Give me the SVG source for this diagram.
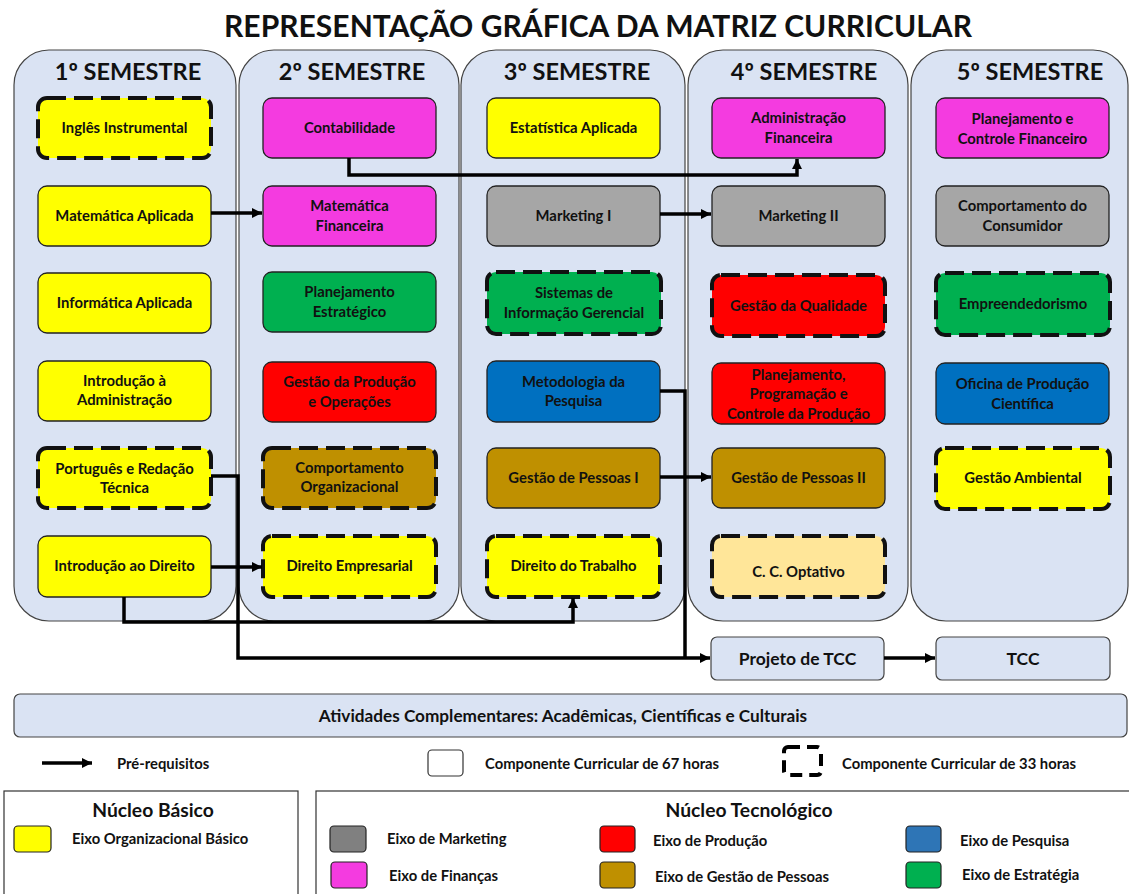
<svg xmlns="http://www.w3.org/2000/svg" width="1129" height="894" viewBox="0 0 1129 894">
<defs>
<marker id="ah" markerUnits="userSpaceOnUse" markerWidth="11" markerHeight="11" refX="10" refY="5" orient="auto">
<path d="M0,0 L10,5 L0,10 z" fill="#000"/>
</marker>
<style>
text{font-family:Lato,"Liberation Sans",sans-serif;font-weight:700;fill:#111;}
.t{font-size:14.8px;text-anchor:middle;}
.tb{font-size:17.5px;text-anchor:middle;}
.h{font-size:23.5px;text-anchor:middle;}
.col{fill:#dae3f3;stroke:#444;stroke-width:1.2;}
.n{stroke:#222;stroke-width:1.3;}
.d{stroke:#111;stroke-width:4;stroke-dasharray:19 8;}
.c{fill:none;stroke:#000;stroke-width:3.5;}
.y{fill:#ffff00;}.m{fill:#f43be0;}.g{fill:#00b050;}.r{fill:#ff0000;}.b{fill:#0070c0;}.br{fill:#bf9000;}.gr{fill:#a6a6a6;}.o{fill:#ffe699;}
.lt{font-size:14.8px;}
.leg{fill:#fff;stroke:#333;stroke-width:1.2;}
.sw{stroke:#222;stroke-width:1.2;}
</style>
</defs>
<rect width="1129" height="894" fill="#fff"/>
<text x="598" y="37" text-anchor="middle" font-size="30" textLength="748">REPRESENTAÇÃO GRÁFICA DA MATRIZ CURRICULAR</text>

<g id="semesters">
<rect class="col" x="14" y="50" width="222" height="571" rx="35"/>
<rect class="col" x="239" y="50" width="220" height="571" rx="35"/>
<rect class="col" x="461" y="50" width="224" height="571" rx="35"/>
<rect class="col" x="688" y="50" width="220" height="571" rx="35"/>
<rect class="col" x="911" y="50" width="217" height="571" rx="35"/>
<text class="h" x="128" y="80">1º SEMESTRE</text>
<text class="h" x="352" y="80">2º SEMESTRE</text>
<text class="h" x="577" y="80">3º SEMESTRE</text>
<text class="h" x="804" y="80">4º SEMESTRE</text>
<text class="h" x="1030" y="80">5º SEMESTRE</text>
</g>

<!-- Semester 1 -->
<g id="n-ingles"><rect class="n y d" x="38" y="98" width="173" height="60" rx="9"/><text class="t" x="124.5" y="133">Inglês Instrumental</text></g>
<g id="n-matapl"><rect class="n y" x="38" y="186" width="173" height="60" rx="9"/><text class="t" x="124.5" y="221">Matemática Aplicada</text></g>
<g id="n-infapl"><rect class="n y" x="38" y="273" width="173" height="60" rx="9"/><text class="t" x="124.5" y="308">Informática Aplicada</text></g>
<g id="n-introadm"><rect class="n y" x="38" y="361" width="173" height="60" rx="9"/><text class="t" x="124.5" y="386">Introdução à</text><text class="t" x="124.5" y="405">Administração</text></g>
<g id="n-port"><rect class="n y d" x="38" y="448" width="173" height="60" rx="9"/><text class="t" x="124.5" y="474">Português e Redação</text><text class="t" x="124.5" y="493">Técnica</text></g>
<g id="n-introdir"><rect class="n y" x="38" y="536" width="173" height="61" rx="9"/><text class="t" x="124.5" y="571">Introdução ao Direito</text></g>

<!-- Semester 2 -->
<g id="n-contab"><rect class="n m" x="263" y="98" width="173" height="60" rx="9"/><text class="t" x="349.5" y="133">Contabilidade</text></g>
<g id="n-matfin"><rect class="n m" x="263" y="186" width="173" height="60" rx="9"/><text class="t" x="349.5" y="211">Matemática</text><text class="t" x="349.5" y="231">Financeira</text></g>
<g id="n-planest"><rect class="n g" x="263" y="272" width="173" height="60" rx="9"/><text class="t" x="349.5" y="297">Planejamento</text><text class="t" x="349.5" y="317">Estratégico</text></g>
<g id="n-gestprod"><rect class="n r" x="263" y="362" width="173" height="60" rx="9"/><text class="t" x="349.5" y="387">Gestão da Produção</text><text class="t" x="349.5" y="407">e Operações</text></g>
<g id="n-comporg"><rect class="n br d" x="263" y="448" width="173" height="60" rx="9"/><text class="t" x="349.5" y="473">Comportamento</text><text class="t" x="349.5" y="492">Organizacional</text></g>
<g id="n-dirempr"><rect class="n y d" x="263" y="536" width="173" height="61" rx="9"/><text class="t" x="349.5" y="571">Direito Empresarial</text></g>

<!-- Semester 3 -->
<g id="n-estat"><rect class="n y" x="487" y="98" width="173" height="60" rx="9"/><text class="t" x="573.5" y="133">Estatística Aplicada</text></g>
<g id="n-mkt1"><rect class="n gr" x="487" y="186" width="173" height="60" rx="9"/><text class="t" x="573.5" y="221">Marketing I</text></g>
<g id="n-sig"><rect class="n g d" x="487" y="272" width="174" height="62" rx="9"/><text class="t" x="574" y="298">Sistemas de</text><text class="t" x="574" y="318">Informação Gerencial</text></g>
<g id="n-metod"><rect class="n b" x="487" y="361" width="173" height="61" rx="9"/><text class="t" x="573.5" y="387">Metodologia da</text><text class="t" x="573.5" y="406">Pesquisa</text></g>
<g id="n-gp1"><rect class="n br" x="487" y="448" width="173" height="60" rx="9"/><text class="t" x="573.5" y="483">Gestão de Pessoas I</text></g>
<g id="n-dirtrab"><rect class="n y d" x="487" y="536" width="173" height="61" rx="9"/><text class="t" x="573.5" y="571">Direito do Trabalho</text></g>

<!-- Semester 4 -->
<g id="n-admfin"><rect class="n m" x="712" y="98" width="173" height="60" rx="9"/><text class="t" x="798.5" y="123">Administração</text><text class="t" x="798.5" y="143">Financeira</text></g>
<g id="n-mkt2"><rect class="n gr" x="712" y="186" width="173" height="60" rx="9"/><text class="t" x="798.5" y="221">Marketing II</text></g>
<g id="n-qual"><rect class="n r d" x="712" y="275" width="173" height="61" rx="9"/><text class="t" x="798.5" y="311">Gestão da Qualidade</text></g>
<g id="n-ppcp"><rect class="n r" x="712" y="363" width="173" height="61" rx="9"/><text class="t" x="798.5" y="380">Planejamento,</text><text class="t" x="798.5" y="399">Programação e</text><text class="t" x="798.5" y="419">Controle da Produção</text></g>
<g id="n-gp2"><rect class="n br" x="712" y="448" width="173" height="60" rx="9"/><text class="t" x="798.5" y="483">Gestão de Pessoas II</text></g>
<g id="n-optativo"><rect class="n o d" x="712" y="536" width="173" height="61" rx="9"/><text class="t" x="798.5" y="577">C. C. Optativo</text></g>

<!-- Semester 5 -->
<g id="n-pcf"><rect class="n m" x="936" y="98" width="173" height="60" rx="9"/><text class="t" x="1022.5" y="124">Planejamento e</text><text class="t" x="1022.5" y="144">Controle Financeiro</text></g>
<g id="n-compcons"><rect class="n gr" x="936" y="186" width="173" height="60" rx="9"/><text class="t" x="1022.5" y="211">Comportamento do</text><text class="t" x="1022.5" y="231">Consumidor</text></g>
<g id="n-empr"><rect class="n g d" x="936" y="273" width="174" height="62" rx="9"/><text class="t" x="1023" y="309">Empreendedorismo</text></g>
<g id="n-oficina"><rect class="n b" x="936" y="363" width="173" height="61" rx="9"/><text class="t" x="1022.5" y="389">Oficina de Produção</text><text class="t" x="1022.5" y="409">Científica</text></g>
<g id="n-ambiental"><rect class="n y d" x="936" y="448" width="174" height="61" rx="9"/><text class="t" x="1023" y="483">Gestão Ambiental</text></g>

<g id="n-projtcc"><rect class="col" x="711" y="637" width="173" height="43" rx="6"/><text class="tb" x="797.5" y="665">Projeto de TCC</text></g>
<g id="n-tcc"><rect class="col" x="936" y="637" width="174" height="43" rx="6"/><text class="tb" x="1023" y="665">TCC</text></g>

<g id="connectors">
<path class="c" d="M211,213 H262" marker-end="url(#ah)"/>
<path class="c" d="M349,158 V175 H797 V159" marker-end="url(#ah)"/>
<path class="c" d="M660,214 H711" marker-end="url(#ah)"/>
<path class="c" d="M211,476 H238 V658 H710" marker-end="url(#ah)"/>
<path class="c" d="M211,567 H262" marker-end="url(#ah)"/>
<path class="c" d="M124,597 V622 H573 V598" marker-end="url(#ah)"/>
<path class="c" d="M660,391 H685 V658"/>
<path class="c" d="M660,477 H711" marker-end="url(#ah)"/>
<path class="c" d="M884,658 H935" marker-end="url(#ah)"/>
</g>

<g id="atividades"><rect class="col" x="14" y="694" width="1113" height="43" rx="6"/><text x="563" y="722" text-anchor="middle" font-size="17.2">Atividades Complementares: Acadêmicas, Científicas e Culturais</text></g>

<g id="legend">
<path class="c" d="M42,763 H92" marker-end="url(#ah)"/>
<text class="lt" x="117" y="769">Pré-requisitos</text>
<rect x="428" y="750" width="35" height="26" rx="4" fill="#fff" stroke="#333" stroke-width="1.2"/>
<text class="lt" x="485" y="769">Componente Curricular de 67 horas</text>
<rect x="784" y="747" width="37" height="28" rx="4" fill="#fff" stroke="#000" stroke-width="4" stroke-dasharray="12 7"/>
<text class="lt" x="842" y="769">Componente Curricular de 33 horas</text>

<rect class="leg" x="4" y="791" width="294" height="120"/>
<text x="153" y="817" text-anchor="middle" font-size="19.3">Núcleo Básico</text>
<rect class="sw" x="14" y="826" width="37" height="26" rx="4" fill="#ffff00"/>
<text class="lt" x="72" y="844">Eixo Organizacional Básico</text>

<rect class="leg" x="316" y="791" width="820" height="120"/>
<text x="749" y="817" text-anchor="middle" font-size="19.3">Núcleo Tecnológico</text>
<rect class="sw" x="330" y="826" width="36" height="26" rx="4" fill="#808080"/>
<text class="lt" x="387" y="844">Eixo de Marketing</text>
<rect class="sw" x="331" y="862" width="36" height="26" rx="4" fill="#f43be0"/>
<text class="lt" x="389" y="881">Eixo de Finanças</text>
<rect class="sw" x="600" y="826" width="35" height="26" rx="4" fill="#ff0000"/>
<text class="lt" x="653" y="846">Eixo de Produção</text>
<rect class="sw" x="600" y="862" width="35" height="26" rx="4" fill="#bf9000"/>
<text class="lt" x="655" y="882">Eixo de Gestão de Pessoas</text>
<rect class="sw" x="906" y="826" width="35" height="26" rx="4" fill="#2e75b6"/>
<text class="lt" x="960" y="846">Eixo de Pesquisa</text>
<rect class="sw" x="906" y="862" width="35" height="26" rx="4" fill="#00b050"/>
<text class="lt" x="962" y="880">Eixo de Estratégia</text>
</g>
</svg>
